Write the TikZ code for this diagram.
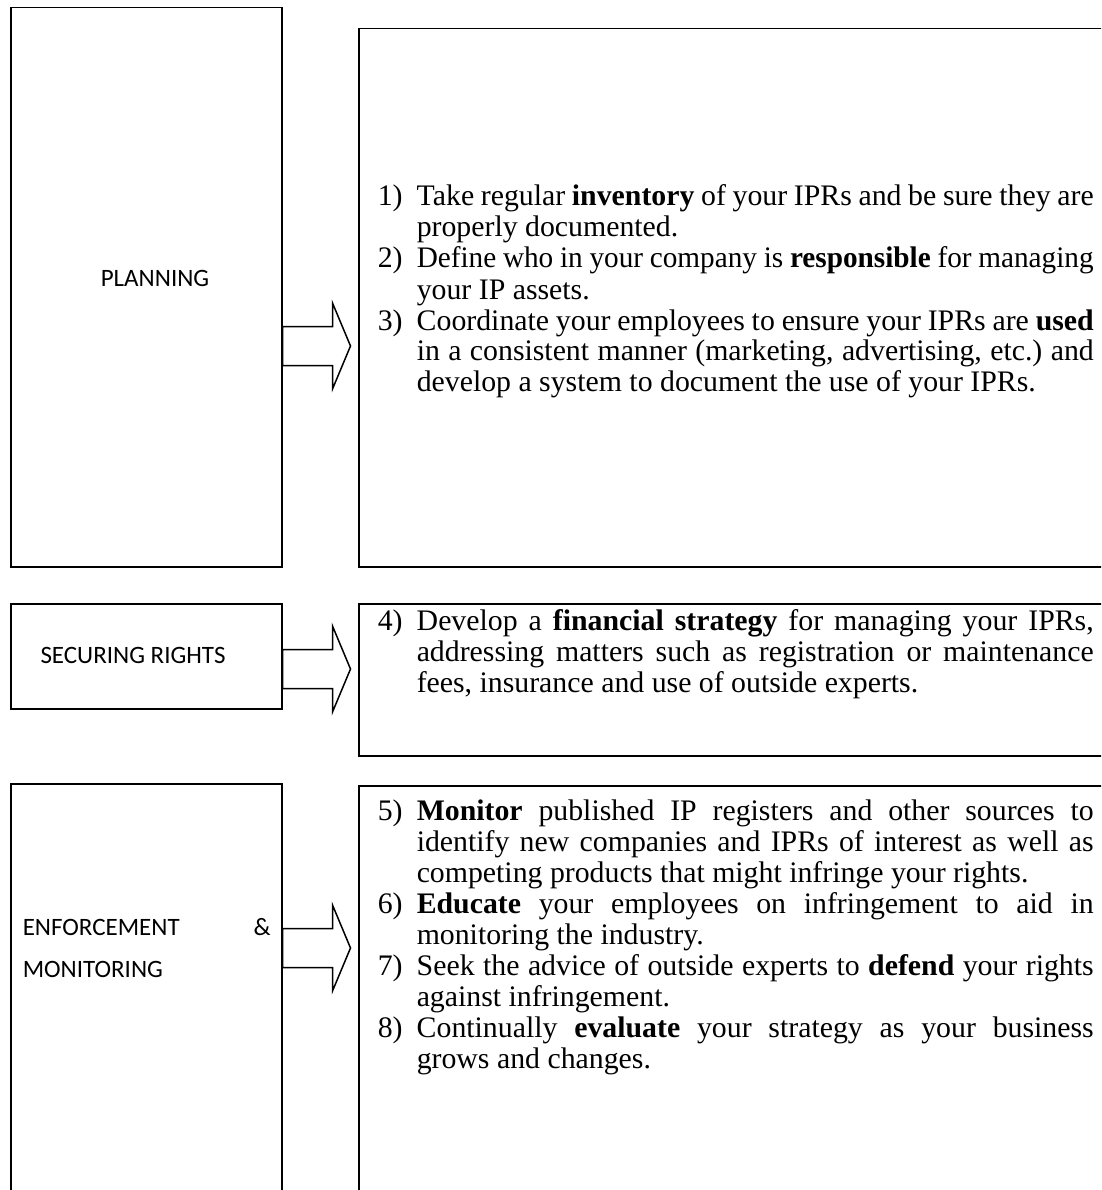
\documentclass[tikz,border=0pt]{standalone}
\usepackage{fontspec}
\usepackage{graphicx}
\setmainfont{Liberation Serif}
\newfontfamily\labelfont{Carlito}
\usetikzlibrary{calc}
\frenchspacing

% list helpers: number column, justified line, tight justified line, continuation indent
\newcommand\itemnum[1]{\makebox[39pt][l]{#1}}
\newcommand\fullline[1]{\makebox[677pt][s]{#1}}
\newcommand\tightline[1]{\scalebox{0.981}[1]{\makebox[690pt][s]{#1}}}
\newcommand\contline{\hspace*{39pt}}
\newcommand\bodysize{\fontsize{29.8}{31}\selectfont}
\newcommand\capsize{\fontsize{25}{42}\selectfont}

\begin{document}
\begin{tikzpicture}[x=1pt,y=-1pt,line width=1.5pt,
  panel/.style={draw,rectangle,inner sep=0pt,anchor=north west},
  caption/.style={font=\labelfont\capsize,inner sep=0pt,anchor=base},
  body/.style={inner sep=0pt,anchor=base west},
  blockarrow/.style={draw,line width=1.5pt,line join=miter,fill=white}]
\useasboundingbox (0,0) rectangle (1101,1190);
\clip (0,0) rectangle (1101,1190);

% left stage boxes and right detail boxes
\node[panel,minimum width=271pt,minimum height=559pt] (planL) at (10,7) {};
\node[panel,minimum width=760pt,minimum height=538pt] (planR) at (358,28) {};
\node[panel,minimum width=271pt,minimum height=105pt] (secL) at (10,603) {};
\node[panel,minimum width=760pt,minimum height=152pt] (secR) at (358,603) {};
\node[panel,minimum width=271pt,minimum height=440pt] (enfL) at (10,783) {};
\node[panel,minimum width=760pt,minimum height=440pt] (enfR) at (358,785) {};

% block arrows from each stage to its details
\coordinate (a1) at ($(planL.north east)+(0,339)$);
\coordinate (a2) at ($(secL.north east)+(0,66)$);
\coordinate (a3) at ($(enfL.north east)+(0,165)$);
\foreach \c in {a1,a2,a3}{
  \draw[blockarrow] (\c) ++(0,-19.5) -- ++(50,0) -- ++(0,-23.5) -- ++(18,43)
    -- ++(-18,43) -- ++(0,-23.5) -- ++(-50,0) -- cycle;
}

% stage captions
\node[caption] (plan) at (155,286) {PLANNING};
\node[caption] (sec) at (133,663) {SECURING RIGHTS};
\node[body] (enf) at (22,935) {\begin{minipage}[t]{260pt}\labelfont\capsize
\makebox[248pt][s]{ENFORCEMENT \&}\\
MONITORING\end{minipage}};

% detail texts
\node[body] (planT) at (377,206) {\begin{minipage}[t]{716pt}\bodysize
\itemnum{1)}\fullline{Take regular \textbf{inventory} of your IPRs and be sure they are}\\
\contline properly documented.\\
\itemnum{2)}\tightline{Define who in your company is \textbf{responsible} for managing}\\
\contline your IP assets.\\
\itemnum{3)}\fullline{Coordinate your employees to ensure your IPRs are \textbf{used}}\\
\contline\fullline{in a consistent manner (marketing, advertising, etc.) and}\\
\contline develop a system to document the use of your IPRs.\end{minipage}};

\node[body] (secT) at (377,630) {\begin{minipage}[t]{716pt}\bodysize
\itemnum{4)}\fullline{Develop a \textbf{financial strategy} for managing your IPRs,}\\
\contline\fullline{addressing matters such as registration or maintenance}\\
\contline fees, insurance and use of outside experts.\end{minipage}};

\node[body] (enfT) at (377,820) {\begin{minipage}[t]{716pt}\bodysize
\itemnum{5)}\fullline{\textbf{Monitor} published IP registers and other sources to}\\
\contline\fullline{identify new companies and IPRs of interest as well as}\\
\contline competing products that might infringe your rights.\\
\itemnum{6)}\fullline{\textbf{Educate} your employees on infringement to aid in}\\
\contline monitoring the industry.\\
\itemnum{7)}\fullline{Seek the advice of outside experts to \textbf{defend} your rights}\\
\contline against infringement.\\
\itemnum{8)}\fullline{Continually \textbf{evaluate} your strategy as your business}\\
\contline grows and changes.\end{minipage}};
\end{tikzpicture}
\end{document}
